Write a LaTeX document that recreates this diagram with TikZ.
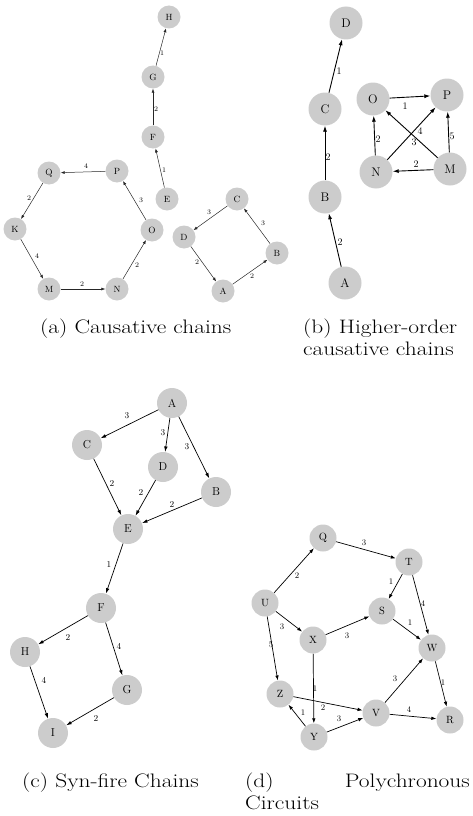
\documentclass[tikz,border=0pt]{standalone}
\usepackage{graphicx}
\usetikzlibrary{arrows.meta}
\definecolor{ngray}{RGB}{204,204,204}
\newcommand{\captxt}[1]{\scalebox{1.2}[1]{#1}}
\begin{document}
\begin{tikzpicture}[x=1pt,y=-1pt,
  nodebase/.style={circle,fill=ngray,inner sep=0pt},
  na/.style={nodebase,minimum size=23pt,font=\fontsize{9}{9}\selectfont},
  nb/.style={nodebase,minimum size=33pt,font=\fontsize{12.5}{12.5}\selectfont},
  nc/.style={nodebase,minimum size=30pt,font=\fontsize{11.5}{11.5}\selectfont},
  nd/.style={nodebase,minimum size=27pt,font=\fontsize{10.5}{10.5}\selectfont},
  ea/.style={draw=black!85,line width=0.5pt,-{Latex[length=4pt,width=3pt]}},
  eb/.style={draw=black,line width=0.9pt,-{Latex[length=6pt,width=4pt]}},
  ec/.style={draw=black,line width=0.7pt,-{Latex[length=5.5pt,width=3.5pt]}},
  ed/.style={draw=black,line width=0.7pt,-{Latex[length=5pt,width=3.5pt]}},
  la/.style={inner sep=0pt,font=\fontsize{7}{7}\selectfont},
  lb/.style={inner sep=0pt,font=\fontsize{10}{10}\selectfont},
  lc/.style={inner sep=0pt,font=\fontsize{9}{9}\selectfont},
  ld/.style={inner sep=0pt,font=\fontsize{8.5}{8.5}\selectfont},
  captext/.style={inner sep=0pt,font=\fontsize{19.5}{22}\selectfont}]
\useasboundingbox (0,0) rectangle (472,816);

% ---------- panel (a) ----------
\node[na] (aH) at (169,17) {H};
\node[na] (aG) at (153,77) {G};
\node[na] (aF) at (153,137) {F};
\node[na] (aE) at (167,199) {E};
\node[na] (aQ) at (49,173) {Q};
\node[na] (aP) at (117,171) {P};
\node[na] (aK) at (15,229) {K};
\node[na] (aO) at (152,230) {O};
\node[na] (aM) at (49,289) {M};
\node[na] (aN) at (117,289) {N};
\node[na] (aC) at (237,199) {C};
\node[na] (aD) at (184,237) {D};
\node[na] (aA) at (223,291) {A};
\node[na] (aB) at (277,253) {B};
\draw[ea] (aE) -- (aF);
\draw[ea] (aF) -- (aG);
\draw[ea] (aG) -- (aH);
\draw[ea] (aP) -- (aQ);
\draw[ea] (aQ) -- (aK);
\draw[ea] (aK) -- (aM);
\draw[ea] (aM) -- (aN);
\draw[ea] (aN) -- (aO);
\draw[ea] (aO) -- (aP);
\draw[ea] (aC) -- (aD);
\draw[ea] (aD) -- (aA);
\draw[ea] (aA) -- (aB);
\draw[ea] (aB) -- (aC);
\node[la] (la1) at (162,53) {1};
\node[la] (la2) at (156,109) {2};
\node[la] (la3) at (164,170) {1};
\node[la] (la4) at (86,166) {4};
\node[la] (la5) at (29,198) {2};
\node[la] (la6) at (37,256) {4};
\node[la] (la7) at (82,284) {2};
\node[la] (la8) at (137,265) {2};
\node[la] (la9) at (141,200) {3};
\node[la] (la10) at (209,212) {3};
\node[la] (la11) at (197,262) {2};
\node[la] (la12) at (252,276) {2};
\node[la] (la13) at (263,223) {3};

% ---------- panel (b) ----------
\node[nb] (bD) at (346,23) {D};
\node[nb] (bC) at (325,109) {C};
\node[nb] (bB) at (325,197) {B};
\node[nb] (bA) at (345,283) {A};
\node[nb] (bO) at (373,99) {O};
\node[nb] (bP) at (447,95) {P};
\node[nb] (bN) at (376,172) {N};
\node[nb] (bM) at (450,169) {M};
\draw[eb] (bA) -- (bB);
\draw[eb] (bB) -- (bC);
\draw[eb] (bC) -- (bD);
\draw[eb] (bO) -- (bP);
\draw[eb] (bN) -- (bO);
\draw[eb] (bN) -- (bP);
\draw[eb] (bM) -- (bO);
\draw[eb] (bM) -- (bP);
\draw[eb] (bM) -- (bN);
\node[lb] (lb1) at (339,71) {1};
\node[lb] (lb2) at (328,157) {2};
\node[lb] (lb3) at (340,242) {2};
\node[lb] (lb4) at (405,106) {1};
\node[lb] (lb5) at (378,139) {2};
\node[lb] (lb6) at (420,131) {4};
\node[lb] (lb7) at (414,142) {3};
\node[lb] (lb8) at (452,136) {5};
\node[lb] (lb9) at (416,164) {2};

% ---------- panel (c) ----------
\node[nc] (cA) at (172,403) {A};
\node[nc] (cC) at (87,445) {C};
\node[nc] (cD) at (163,467) {D};
\node[nc] (cB) at (216,492) {B};
\node[nc] (cE) at (128,529) {E};
\node[nc] (cF) at (101,608) {F};
\node[nc] (cH) at (25,652) {H};
\node[nc] (cG) at (127,690) {G};
\node[nc] (cI) at (53,733) {I};
\draw[ec] (cA) -- (cC);
\draw[ec] (cA) -- (cD);
\draw[ec] (cA) -- (cB);
\draw[ec] (cC) -- (cE);
\draw[ec] (cD) -- (cE);
\draw[ec] (cB) -- (cE);
\draw[ec] (cE) -- (cF);
\draw[ec] (cF) -- (cH);
\draw[ec] (cF) -- (cG);
\draw[ec] (cH) -- (cI);
\draw[ec] (cG) -- (cI);
\node[lc] (lc1) at (127,416) {3};
\node[lc] (lc2) at (163,433) {3};
\node[lc] (lc3) at (187,447) {3};
\node[lc] (lc4) at (112,483) {2};
\node[lc] (lc5) at (141,492) {2};
\node[lc] (lc6) at (172,504) {2};
\node[lc] (lc7) at (109,564) {1};
\node[lc] (lc8) at (68,637) {2};
\node[lc] (lc9) at (119,646) {4};
\node[lc] (lc10) at (44,680) {4};
\node[lc] (lc11) at (96,718) {2};

% ---------- panel (d) ----------
\node[nd] (dQ) at (323,538) {Q};
\node[nd] (dT) at (409,562) {T};
\node[nd] (dU) at (265,603) {U};
\node[nd] (dS) at (382,611) {S};
\node[nd] (dX) at (313,640) {X};
\node[nd] (dW) at (432,648) {W};
\node[nd] (dZ) at (280,694) {Z};
\node[nd] (dV) at (376,713) {V};
\node[nd] (dR) at (450,720) {R};
\node[nd] (dY) at (314,737) {Y};
\draw[ed] (dU) -- (dQ);
\draw[ed] (dQ) -- (dT);
\draw[ed] (dT) -- (dS);
\draw[ed] (dT) -- (dW);
\draw[ed] (dS) -- (dW);
\draw[ed] (dU) -- (dX);
\draw[ed] (dX) -- (dS);
\draw[ed] (dU) -- (dZ);
\draw[ed] (dX) -- (dY);
\draw[ed] (dZ) -- (dV);
\draw[ed] (dY) -- (dZ);
\draw[ed] (dY) -- (dV);
\draw[ed] (dV) -- (dW);
\draw[ed] (dV) -- (dR);
\draw[ed] (dW) -- (dR);
\node[ld] (ld1) at (297,576) {2};
\node[ld] (ld2) at (364,543) {3};
\node[ld] (ld3) at (391,582) {1};
\node[ld] (ld4) at (423,604) {4};
\node[ld] (ld5) at (410,623) {1};
\node[ld] (ld6) at (282,627) {3};
\node[ld] (ld7) at (347,636) {3};
\node[ld] (ld8) at (271,645) {5};
\node[ld] (ld9) at (315,689) {1};
\node[ld] (ld10) at (323,708) {2};
\node[ld] (ld11) at (303,713) {1};
\node[ld] (ld12) at (339,719) {3};
\node[ld] (ld13) at (395,679) {3};
\node[ld] (ld14) at (409,710) {4};
\node[ld] (ld15) at (443,683) {1};

% ---------- captions ----------
\node[captext,anchor=base west] (capa) at (40,333) {\captxt{(a) Causative chains}};
\node[captext,anchor=base west] (capb1) at (303,333) {\captxt{(b) Higher-order}};
\node[captext,anchor=base west] (capb2) at (303,355) {\captxt{causative chains}};
\node[captext,anchor=base west] (capc) at (22,787) {\captxt{(c) Syn-fire Chains}};
\node[captext,anchor=base west] (capd1) at (245,787) {\captxt{(d)}};
\node[captext,anchor=base east] (capd2) at (470,787) {\captxt{Polychronous}};
\node[captext,anchor=base west] (capd3) at (245,809) {\captxt{Circuits}};
\end{tikzpicture}
\end{document}
